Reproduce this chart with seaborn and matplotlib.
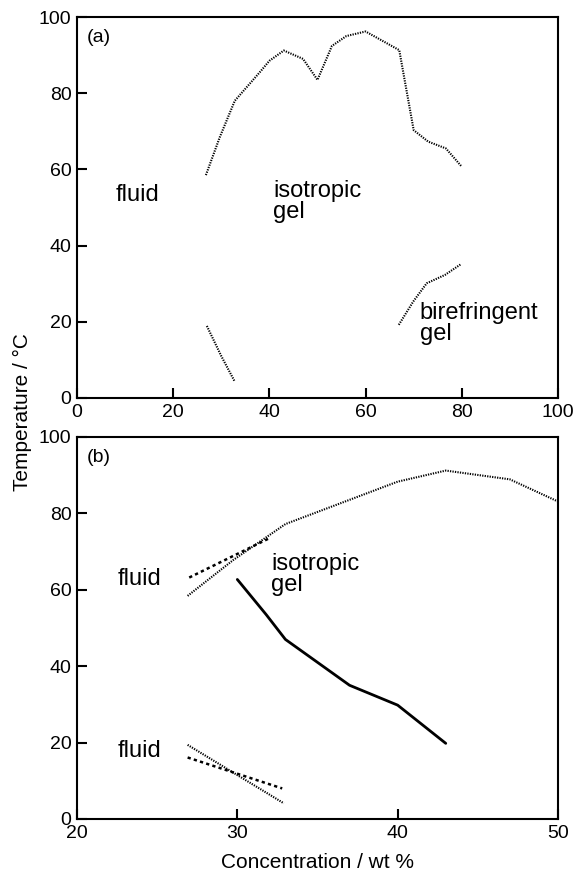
import numpy as np
import pandas as pd
import matplotlib
matplotlib.use("Agg")
import matplotlib.pyplot as plt
import seaborn as sns

# ---------------- data ----------------
# Panel (a)
a_upper_x = [26.8, 29.7, 32.8, 38.0, 40.0, 43.0, 47.0, 50.0, 53.0, 56.0, 60.0, 67.0, 70.0, 73.0, 76.7, 80.0]
a_upper_y = [58.5, 68.5, 78.0, 85.5, 88.5, 91.2, 89.0, 83.5, 92.4, 95.0, 96.2, 91.3, 70.3, 67.3, 65.5, 60.7]
a_lower_x = [27.0, 30.0, 32.8]
a_lower_y = [18.9, 11.0, 4.3]
a_biref_x = [66.9, 69.9, 72.7, 76.5, 79.8]
a_biref_y = [19.2, 25.3, 30.1, 32.3, 35.1]

# Panel (b)
b_upper_dot_x = [26.9, 29.75, 33.0, 40.0, 43.0, 47.0, 50.0]
b_upper_dot_y = [58.4, 67.8, 77.2, 88.3, 91.2, 88.9, 83.1]
b_upper_dash_x = [27.0, 32.0]
b_upper_dash_y = [63.2, 73.5]
b_solid_x = [30.0, 31.8, 33.0, 37.0, 40.0, 43.0]
b_solid_y = [62.7, 53.5, 47.0, 35.0, 29.8, 19.8]
b_lower_dot_x = [26.9, 32.9]
b_lower_dot_y = [19.4, 4.1]
b_lower_dash_x = [26.9, 32.8]
b_lower_dash_y = [16.1, 8.0]

a_xticks = [0, 20, 40, 60, 80, 100]
b_xticks = [20, 30, 40, 50]
yticks = [0, 20, 40, 60, 80, 100]

# ---------------- style ----------------
sns.set_style("ticks")
plt.rcParams['font.family'] = ['Liberation Sans', 'DejaVu Sans']
plt.rcParams.update({
    'axes.linewidth': 1.5,
    'text.color': 'black',
    'axes.labelcolor': 'black',
    'axes.edgecolor': 'black',
    'xtick.color': 'black',
    'ytick.color': 'black',
})

fig = plt.figure(figsize=(5.75, 8.72), dpi=100)
ax1 = fig.add_axes([0.1339, 0.5436, 0.8365, 0.4369])
ax2 = fig.add_axes([0.1339, 0.0608, 0.8365, 0.4381])

DOT = dict(color="black", lw=1.5, linestyle=(0, (0.6, 0.6)))
DASH = dict(color="black", lw=1.8, linestyle=(0, (1.3, 1.3)))
SOLID = dict(color="black", lw=2.0, linestyle="-")


def draw(ax, x, y, kw):
    df = pd.DataFrame({"x": x, "y": y})
    sns.lineplot(data=df, x="x", y="y", ax=ax, sort=False, estimator=None,
                 legend=False, **kw)


draw(ax1, a_upper_x, a_upper_y, DOT)
draw(ax1, a_lower_x, a_lower_y, DOT)
draw(ax1, a_biref_x, a_biref_y, DOT)

draw(ax2, b_upper_dot_x, b_upper_dot_y, DOT)
draw(ax2, b_upper_dash_x, b_upper_dash_y, DASH)
draw(ax2, b_solid_x, b_solid_y, SOLID)
draw(ax2, b_lower_dot_x, b_lower_dot_y, DOT)
draw(ax2, b_lower_dash_x, b_lower_dash_y, DASH)

for ax, xt in ((ax1, a_xticks), (ax2, b_xticks)):
    ax.set_xlim(xt[0], xt[-1])
    ax.set_ylim(0, 100)
    ax.set_xticks(xt)
    ax.set_yticks(yticks)
    ax.tick_params(direction="in", length=7, width=1.5, labelsize=14,
                   pad=4, colors="black")
    ax.set_xlabel("")
    ax.set_ylabel("")
    for s in ax.spines.values():
        s.set_visible(True)
        s.set_linewidth(1.5)
        s.set_color("black")

LBL = 17
ax1.text(2.0, 94.5, "(a)", fontsize=14, va="center", ha="left")
ax1.text(8.1, 53.3, "fluid", fontsize=LBL, va="center", ha="left")
ax1.text(40.8, 51.5, "isotropic\ngel", fontsize=LBL, va="center", ha="left",
         linespacing=0.95)
ax1.text(71.3, 19.5, "birefringent\ngel", fontsize=LBL, va="center", ha="left",
         linespacing=0.95)

ax2.text(20.6, 94.6, "(b)", fontsize=14, va="center", ha="left")
ax2.text(22.56, 62.8, "fluid", fontsize=LBL, va="center", ha="left")
ax2.text(22.56, 17.8, "fluid", fontsize=LBL, va="center", ha="left")
ax2.text(32.1, 64.0, "isotropic\ngel", fontsize=LBL, va="center", ha="left",
         linespacing=0.95)

ax2.set_xlabel("Concentration / wt %", fontsize=15, labelpad=8, color="black")
fig.text(22 / 575, 1 - 412 / 872, "Temperature / °C", rotation=90,
         fontsize=15, ha="center", va="center", color="black")

fig.savefig("out.png", dpi=100)
